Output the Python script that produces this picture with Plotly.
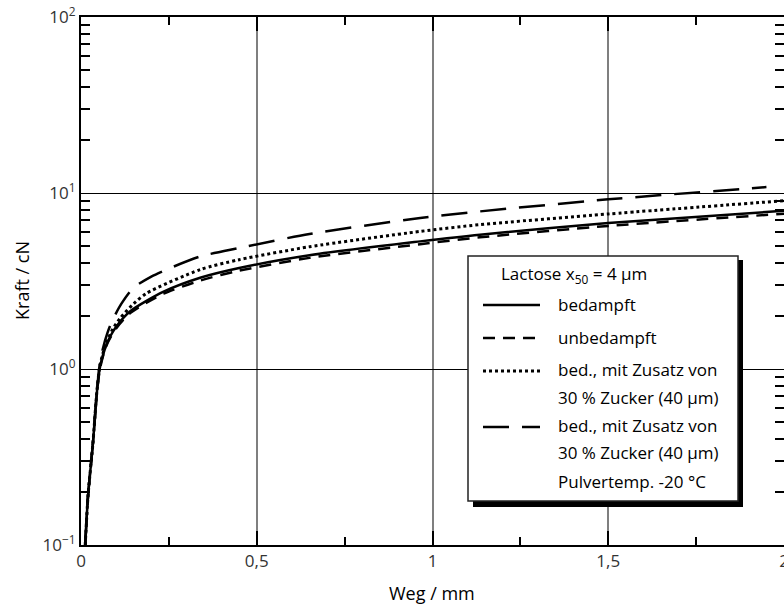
import plotly.graph_objects as go

# ---- data ----
x_bed = [0.012, 0.02, 0.034, 0.045, 0.053, 0.062, 0.072, 0.083, 0.1, 0.14, 0.235, 0.339, 0.45, 0.65, 0.965, 1.135, 1.5, 2.0]
y_bed = [0.1, 0.19, 0.38, 0.73, 1.0, 1.19, 1.37, 1.53, 1.74, 2.13, 2.75, 3.3, 3.75, 4.43, 5.31, 5.8, 6.75, 7.93]

x_unb = [0.012, 0.02, 0.034, 0.045, 0.053, 0.062, 0.072, 0.083, 0.1, 0.14, 0.235, 0.339, 0.45, 0.65, 0.965, 1.135, 1.5, 2.0]
y_unb = [0.1, 0.19, 0.38, 0.72, 0.98, 1.17, 1.35, 1.5, 1.7, 2.08, 2.68, 3.18, 3.62, 4.28, 5.12, 5.6, 6.5, 7.62]

x_dot = [0.012, 0.02, 0.034, 0.045, 0.053, 0.062, 0.075, 0.09, 0.112, 0.15, 0.1875, 0.339, 0.45, 0.65, 0.965, 1.135, 1.5, 2.0]
y_dot = [0.1, 0.19, 0.38, 0.74, 1.02, 1.22, 1.45, 1.68, 1.95, 2.35, 2.7, 3.67, 4.18, 4.95, 6.05, 6.61, 7.6, 9.04]

x_ld = [0.012, 0.02, 0.034, 0.045, 0.053, 0.062, 0.075, 0.091, 0.115, 0.149, 0.2, 0.254, 0.339, 0.45, 0.65, 0.965, 1.135, 1.5, 1.95]
y_ld = [0.1, 0.19, 0.38, 0.74, 1.05, 1.3, 1.6, 1.92, 2.35, 2.89, 3.35, 3.75, 4.36, 4.87, 5.85, 7.21, 7.86, 9.2, 10.8]

x_ticks = [0, 0.5, 1, 1.5, 2]
x_ticktext = ["0", "0,5", "1", "1,5", "2"]
y_ticks = [0.1, 1, 10, 100]
y_ticktext = ["10<sup>\u22121</sup>", "10<sup>0</sup>", "10<sup>1</sup>", "10<sup>2</sup>"]
x_title = "Weg / mm"
y_title = "Kraft / cN"

legend_title = "Lactose x<sub>50</sub> = 4 \u00b5m"
legend_labels = [
    ["bedampft"],
    ["unbedampft"],
    ["bed., mit Zusatz von", "30 % Zucker (40 \u00b5m)"],
    ["bed., mit Zusatz von", "30 % Zucker (40 \u00b5m)", "Pulvertemp. -20 \u00b0C"],
]
dashes = ["solid", "12px,8px", "3px,3px", "26px,13px"]
widths = [2.5, 2.5, 3, 2.5]

FONT = "Open Sans"
W, H = 784, 607
L, R, T, B = 81, 0, 17, 62
PW, PH = W - L - R, H - T - B


def px(xp):
    return (xp - L) / PW


def py(yp):
    return (H - B - yp) / PH


fig = go.Figure()
series = [(x_bed, y_bed), (x_unb, y_unb), (x_dot, y_dot), (x_ld, y_ld)]
for (xs, ys), d, w in zip(series, dashes, widths):
    fig.add_trace(go.Scatter(x=xs, y=ys, mode="lines",
                             line=dict(color="black", width=w, dash=d, shape="spline", smoothing=0.7),
                             showlegend=False, hoverinfo="skip"))
# invisible trace to realise right-hand tick axis
fig.add_trace(go.Scatter(x=[1], y=[1], yaxis="y2", mode="markers", marker=dict(opacity=0),
                         showlegend=False, hoverinfo="skip"))

minor_vals = [m * 10 ** e for e in (-1, 0, 1) for m in range(2, 10)]

fig.update_layout(
    width=W, height=H,
    margin=dict(l=L, r=R, t=T, b=B, autoexpand=False),
    paper_bgcolor="white", plot_bgcolor="white",
    font=dict(family=FONT, size=17, color="black"),
    xaxis=dict(
        range=[0, 2], tickvals=x_ticks, ticktext=x_ticktext,
        showgrid=True, gridcolor="#7f7f7f", gridwidth=1.5,
        showline=True, linecolor="black", linewidth=2, mirror="ticks",
        ticks="inside", ticklen=14, tickwidth=2, tickcolor="black",
        minor=dict(dtick=0.25, tick0=0, ticks="inside", ticklen=8, tickwidth=1.5, tickcolor="black", showgrid=False),
        tickfont=dict(family=FONT, size=17, color="#333333"),
        ticklabeloverflow="allow", automargin=False,
        zeroline=False,
    ),
    yaxis=dict(
        type="log", range=[-1, 2], tickvals=y_ticks, ticktext=y_ticktext,
        showgrid=True, gridcolor="black", gridwidth=1,
        showline=True, linecolor="black", linewidth=2,
        ticks="", automargin=False,
        minor=dict(tickvals=minor_vals, ticks="inside", ticklen=9, tickwidth=1.5, tickcolor="black", showgrid=False),
        tickfont=dict(family=FONT, size=17, color="#333333"),
        zeroline=False,
    ),
    yaxis2=dict(
        type="log", range=[-1, 2], overlaying="y", side="right", anchor="x",
        showgrid=False, showline=False, showticklabels=False, ticks="", automargin=False,
        minor=dict(tickvals=minor_vals, ticks="inside", ticklen=9, tickwidth=1.5, tickcolor="black", showgrid=False),
        zeroline=False,
    ),
)

# axis titles
fig.add_annotation(text=x_title, xref="paper", yref="paper", x=px(432), y=py(593), showarrow=False,
                   font=dict(family=FONT, size=18, color="black"), xanchor="center", yanchor="middle")
fig.add_annotation(text=y_title, xref="paper", yref="paper", x=px(22), y=py(281), showarrow=False,
                   textangle=-90, font=dict(family=FONT, size=18, color="black"), xanchor="center", yanchor="middle")

# legend box with shadow
fig.add_shape(type="rect", xref="paper", yref="paper", x0=px(473), x1=px(743), y0=py(260), y1=py(507),
              fillcolor="black", line=dict(width=0), layer="above")
fig.add_shape(type="rect", xref="paper", yref="paper", x0=px(468), x1=px(738), y0=py(256), y1=py(501),
              fillcolor="white", line=dict(color="#222222", width=1.5), layer="above")
fig.add_annotation(text=legend_title, xref="paper", yref="paper", x=px(499), y=py(274), showarrow=False,
                   xanchor="left", yanchor="middle", font=dict(family=FONT, size=17, color="black"))

sample_y = [305, 338, 371, 427]
text_y0 = [304, 337, 369, 425]
line_gap = 28
for sy, ty, labels, d, w in zip(sample_y, text_y0, legend_labels, dashes, widths):
    fig.add_shape(type="line", xref="paper", yref="paper", x0=px(483), x1=px(540), y0=py(sy), y1=py(sy),
                  line=dict(color="black", width=w, dash=d), layer="above")
    for i, lab in enumerate(labels):
        fig.add_annotation(text=lab, xref="paper", yref="paper", x=px(556), y=py(ty + i * line_gap),
                           showarrow=False, xanchor="left", yanchor="middle",
                           font=dict(family=FONT, size=17, color="black"))

fig.write_html("out.html", config={"displayModeBar": False},
               post_script="document.body.style.margin='0';document.body.style.overflow='hidden';")
